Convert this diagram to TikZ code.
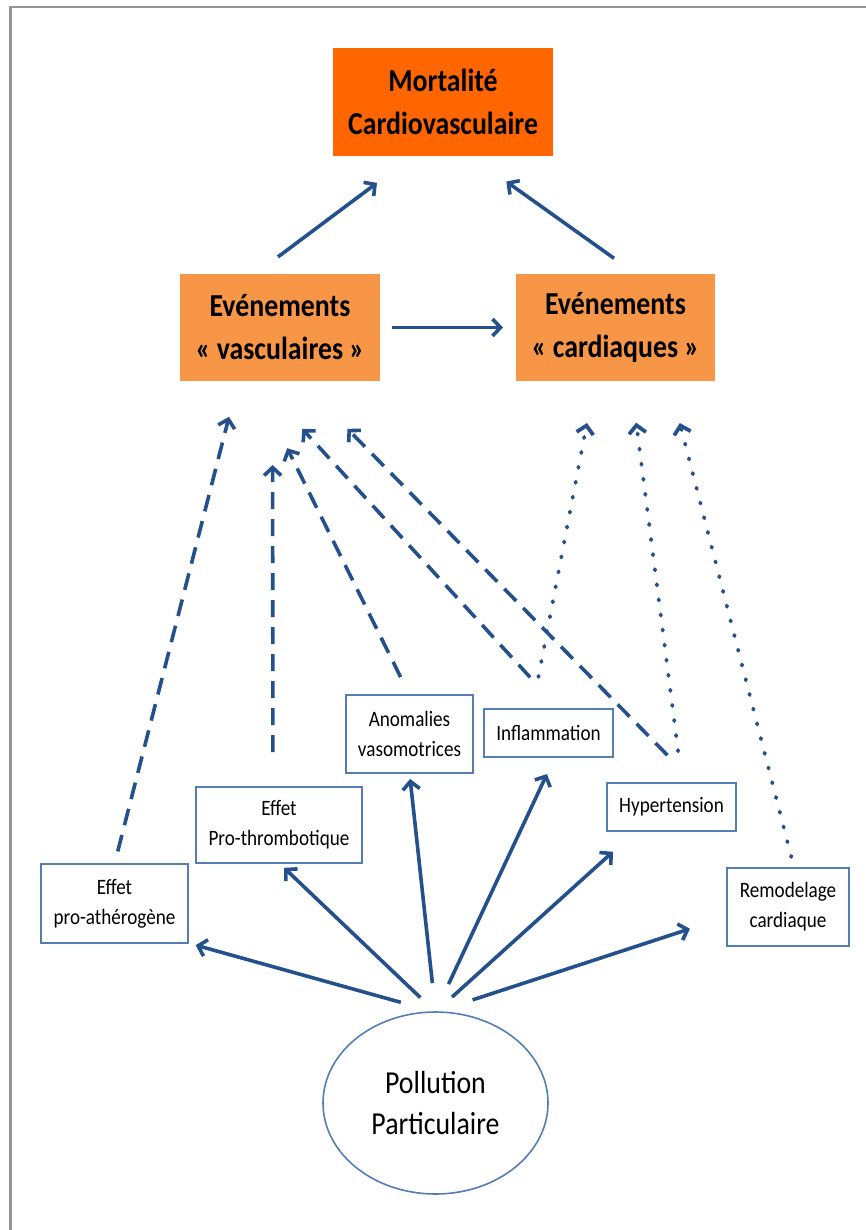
\documentclass[tikz,border=0pt]{standalone}
\usepackage{fontspec}
\setmainfont{Carlito}[FakeStretch=0.87]
\usetikzlibrary{arrows.meta,shapes.geometric}
\definecolor{arrowblue}{RGB}{36,80,140}
\definecolor{boxblue}{RGB}{85,125,180}
\definecolor{topor}{RGB}{255,102,0}
\definecolor{midor}{RGB}{247,150,70}
\definecolor{framegray}{RGB}{150,150,150}
\begin{document}
\begin{tikzpicture}[x=1pt,y=-1pt,
  topbox/.style={fill=topor, minimum width=220pt, minimum height=108pt, align=center,
    font=\fontsize{32}{43}\selectfont\bfseries, inner sep=0pt, outer sep=0pt},
  midbox/.style={topbox, fill=midor, minimum width=200pt, minimum height=107pt},
  smallbox/.style={draw=boxblue, line width=1.6pt, fill=white, align=center,
    font=\fontsize{22}{30}\selectfont, inner sep=0pt, outer sep=0pt},
  solidarrow/.style={draw=arrowblue, line width=3.6pt, -{Straight Barb[length=8pt,width=17pt]}},
  dasharrow/.style={solidarrow, dash pattern=on 17pt off 10pt},
  dotarrow/.style={solidarrow, line width=3.8pt, line cap=round, dash pattern=on 1.2pt off 14pt}]
\useasboundingbox (0,0) rectangle (866,1230);
\draw[framegray, line width=2.5pt] (866,7) -- (10.5,7) -- (10.5,1230);

\node[topbox] (mc) at (443,102) {Mortalité\\Cardiovasculaire};
\node[midbox] (ev) at (280,327.5) {Evénements\\« vasculaires »};
\node[midbox, minimum width=199pt] (ec) at (615.5,327.5) {Evénements\\« cardiaques »};

\node[smallbox, minimum width=147pt, minimum height=79pt] (pa) at (114.5,903.5) {Effet\\pro-athérogène};
\node[smallbox, minimum width=166pt, minimum height=76pt] (pt) at (279,825) {Effet\\Pro-thrombotique};
\node[smallbox, minimum width=127pt, minimum height=78pt] (am) at (409.5,734) {Anomalies\\vasomotrices};
\node[smallbox, minimum width=129pt, minimum height=48pt] (inf) at (548.5,733) {Inflammation};
\node[smallbox, minimum width=129pt, minimum height=48pt] (hy) at (671.5,807) {Hypertension};
\node[smallbox, minimum width=122pt, minimum height=78pt] (rc) at (788,907) {Remodelage\\cardiaque};
\node[ellipse, draw=boxblue, line width=1.6pt, minimum width=225pt, minimum height=182pt,
  inner sep=0pt, outer sep=0pt, align=center, font=\fontsize{32}{41}\selectfont] (pp) at (435.5,1103) {Pollution\\Particulaire};

% top arrows
\draw[solidarrow, shorten <=28.6pt, shorten >=45pt] (ev.115.9) -- (mc.241.8);
\draw[solidarrow, shorten <=27pt, shorten >=44pt] (ec.69) -- (mc.297.4);
\draw[solidarrow, shorten <=12pt, shorten >=13pt] (ev.east) -- (ec.west);

% solid arrows from pollution
\draw[solidarrow, shorten <=36pt, shorten >=8pt] (pp.north) -- (pa.south east);
\draw[solidarrow, shorten <=21pt, shorten >=7pt] (pp.north) -- (pt.south);
\draw[solidarrow, shorten <=29pt, shorten >=6pt] (pp.north) -- (am.south);
\draw[solidarrow, shorten <=30.8pt, shorten >=18.8pt] (pp.north) -- (inf.285.2);
\draw[solidarrow, shorten <=22.3pt, shorten >=31pt] (pp.north) -- (hy.214);
\draw[solidarrow, shorten <=39pt, shorten >=39pt] (pp.north) -- (rc.189.3);

% dashed arrows to vascular events
\draw[dasharrow, shorten <=13pt, shorten >=37pt] (pa.north) -- (ev.232.7);
\draw[dasharrow, shorten <=35pt, shorten >=84pt] (pt.99) -- (ev.262.5);
\draw[dasharrow, shorten <=20pt, shorten >=75pt] (am.north) -- (ev.244.9);
\draw[dasharrow, shorten <=43pt, shorten >=65pt] (inf.66.4) -- (ev.248.6);
\draw[dasharrow, shorten <=39pt, shorten >=67pt] (hy.46.3) -- (ev.291.4);

% dotted arrows to cardiac events
\draw[dotarrow, shorten <=32.6pt, shorten >=42.8pt] (inf.124.8) -- (ec.249.1);
\draw[dotarrow, shorten <=32pt, shorten >=42pt] (hy.66.4) -- (ec.286.9);
\draw[dotarrow, shorten <=11.4pt, shorten >=43.4pt] (rc.81.5) -- (ec.315.1);
\end{tikzpicture}
\end{document}
